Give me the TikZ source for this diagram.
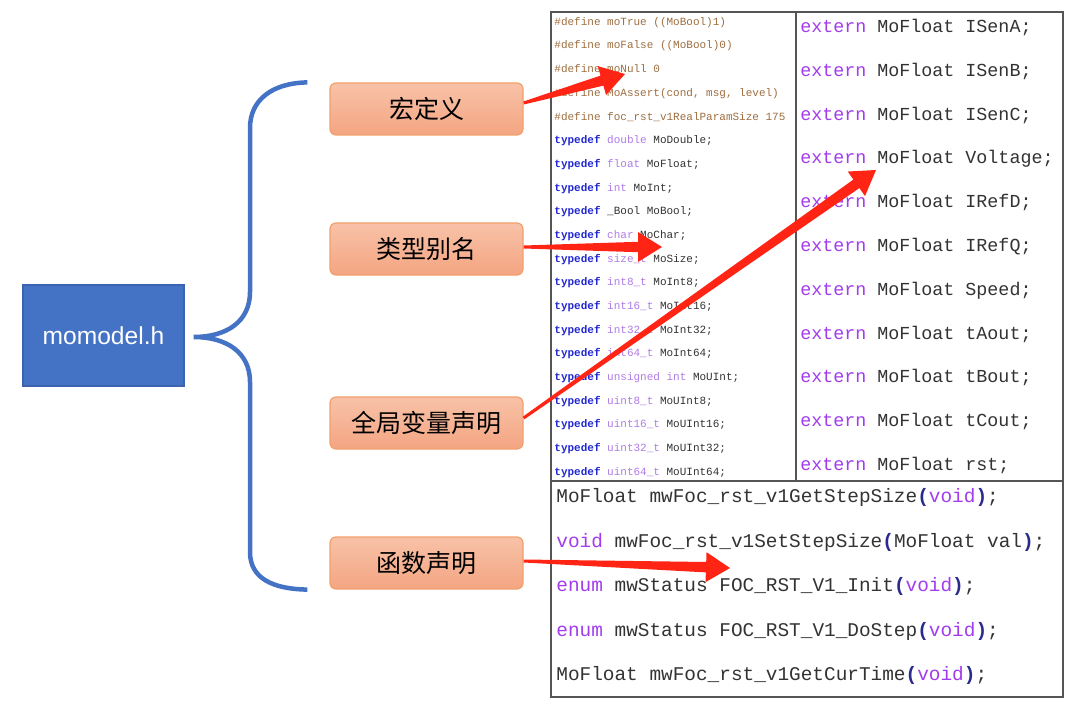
\documentclass[tikz,border=0pt]{standalone}
\usepackage{fontspec}
\setmainfont{Liberation Sans}
\setmonofont{Liberation Mono}
\newfontfamily\cjk{Noto Sans CJK SC}
\usetikzlibrary{calc,positioning}
\definecolor{HeadBlue}{HTML}{4472C4}
\definecolor{HeadLine}{HTML}{3A64B0}
\definecolor{PartTop}{HTML}{F8C2A8}
\definecolor{PartBottom}{HTML}{F4A582}
\definecolor{PartLine}{HTML}{F2A06C}
\definecolor{ArrowRed}{HTML}{FF2414}
\definecolor{TableLine}{HTML}{555555}
\definecolor{DefBrown}{HTML}{9E6E40}
\definecolor{KwBlue}{HTML}{2228D2}
\definecolor{TypePurple}{HTML}{B07CE6}
\definecolor{ExtPurple}{HTML}{A23CEE}
\definecolor{CodeGray}{HTML}{333333}
\definecolor{ParenNavy}{HTML}{2A2A8C}
\newcommand{\codedef}[1]{\textcolor{DefBrown}{#1}}
\newcommand{\codekw}[1]{\textcolor{KwBlue}{\bfseries #1}}
\newcommand{\codetype}[1]{\textcolor{TypePurple}{#1}}
\newcommand{\codeext}[1]{\textcolor{ExtPurple}{#1}}
\newcommand{\codebr}[1]{\textcolor{ParenNavy}{\bfseries #1}}
\newcommand{\redarrow}[2]{%
  \coordinate (ra tail) at (#1);
  \coordinate (ra tip) at (#2);
  \coordinate (ra base) at ($(ra tip)!12pt!(ra tail)$);
  \fill[ArrowRed] ($(ra tail)!0.75pt!90:(ra tip)$) -- ($(ra base)!2.6pt!90:(ra tip)$)
    -- ($(ra base)!7.5pt!90:(ra tip)$) -- (ra tip) -- ($(ra base)!7.5pt!-90:(ra tip)$)
    -- ($(ra base)!2.6pt!-90:(ra tip)$) -- ($(ra tail)!0.75pt!-90:(ra tip)$) -- cycle;}
\tikzset{
  headbox/.style={fill=HeadBlue,draw=HeadLine,line width=0.6pt,text=white,
    minimum width=80.5pt,minimum height=50.5pt,font=\fontsize{12.3}{14}\selectfont},
  partbox/.style={rounded corners=3pt,top color=PartTop,bottom color=PartBottom,
    draw=PartLine,line width=0.6pt,minimum width=96.5pt,minimum height=26pt,
    font=\cjk\fontsize{12.5}{14}\selectfont},
  bracket/.style={draw=HeadBlue,line width=2.25pt},
  grid line/.style={draw=TableLine,line width=0.7pt},
  code small/.style={anchor=base west,inner sep=0pt,text=CodeGray,
    font=\ttfamily\fontsize{5.5}{6}\selectfont},
  code mid/.style={anchor=base west,inner sep=0pt,text=CodeGray,
    font=\ttfamily\fontsize{9.17}{10}\selectfont},
  code big/.style={anchor=base west,inner sep=0pt,text=CodeGray,
    font=\ttfamily\fontsize{9.7}{11}\selectfont}
}
\begin{document}
\begin{tikzpicture}[x=0.5pt,y=-0.5pt]
  \useasboundingbox[fill=white] (0,0) rectangle (1080,711);
  \node[headbox] (momodel) at (103.5,335.5) {momodel.h};
  \node[partbox] (macro) at (426.5,109) {宏定义};
  \node[partbox] (alias) at (426.5,249) {类型别名};
  \node[partbox] (global) at (426.5,423) {全局变量声明};
  \node[partbox] (func) at (426.5,563) {函数声明};

  \coordinate (btip) at ($(momodel.east)+(9,1.5)$);
  \coordinate (btop) at ($(macro.north west)+(-22,0)$);
  \coordinate (bbot) at ($(func.south west)+(-22,0)$);
  \draw[bracket] (btop) .. controls (272,83) and (250,100) .. (250,128) -- (250,292)
    .. controls (250,322) and (226,337) .. (btip)
    .. controls (226,337) and (250,352) .. (250,382) -- (250,552)
    .. controls (250,578) and (272,589) .. (bbot);

  \draw[grid line] (551,12) rectangle (1063,697);
  \draw[grid line] (796,12) -- (796,481);
  \draw[grid line] (551,481) -- (1063,481);

  \foreach \src [count=\i from 0] in {
    {\codedef{\#define moTrue ((MoBool)1)}},
    {\codedef{\#define moFalse ((MoBool)0)}},
    {\codedef{\#define moNull 0}},
    {\codedef{\#define MoAssert(cond, msg, level)}},
    {\codedef{\#define foc\_rst\_v1RealParamSize 175}},
    {\codekw{typedef} \codetype{double} MoDouble;},
    {\codekw{typedef} \codetype{float} MoFloat;},
    {\codekw{typedef} \codetype{int} MoInt;},
    {\codekw{typedef} \_Bool MoBool;},
    {\codekw{typedef} \codetype{char} MoChar;},
    {\codekw{typedef} \codetype{size\_t} MoSize;},
    {\codekw{typedef} \codetype{int8\_t} MoInt8;},
    {\codekw{typedef} \codetype{int16\_t} MoInt16;},
    {\codekw{typedef} \codetype{int32\_t} MoInt32;},
    {\codekw{typedef} \codetype{int64\_t} MoInt64;},
    {\codekw{typedef} \codetype{unsigned int} MoUInt;},
    {\codekw{typedef} \codetype{uint8\_t} MoUInt8;},
    {\codekw{typedef} \codetype{uint16\_t} MoUInt16;},
    {\codekw{typedef} \codetype{uint32\_t} MoUInt32;},
    {\codekw{typedef} \codetype{uint64\_t} MoUInt64;}}
    \node[code small] (def\i) at (554,{25.3+23.68*\i}) {\src};

  \foreach \var [count=\i from 0] in {ISenA,ISenB,ISenC,Voltage,IRefD,IRefQ,Speed,tAout,tBout,tCout,rst}
    \node[code mid] (ext\i) at (800,{32.5+43.8*\i}) {\codeext{extern} MoFloat \var;};

  \foreach \src [count=\i from 0] in {
    {MoFloat mwFoc\_rst\_v1GetStepSize\codebr{(}\codeext{void}\codebr{)};},
    {\codeext{void} mwFoc\_rst\_v1SetStepSize\codebr{(}MoFloat val\codebr{)};},
    {\codeext{enum} mwStatus FOC\_RST\_V1\_Init\codebr{(}\codeext{void}\codebr{)};},
    {\codeext{enum} mwStatus FOC\_RST\_V1\_DoStep\codebr{(}\codeext{void}\codebr{)};},
    {MoFloat mwFoc\_rst\_v1GetCurTime\codebr{(}\codeext{void}\codebr{)};}}
    \node[code big] (fn\i) at (556,{502.8+44.5*\i}) {\src};

  \redarrow{$(macro.east)+(0,-6)$}{625,74}
  \redarrow{$(alias.east)+(0,-2)$}{662,247}
  \redarrow{$(global.east)+(0,-5)$}{876,170}
  \redarrow{$(func.east)+(0,-2)$}{730,568}
\end{tikzpicture}
\end{document}
